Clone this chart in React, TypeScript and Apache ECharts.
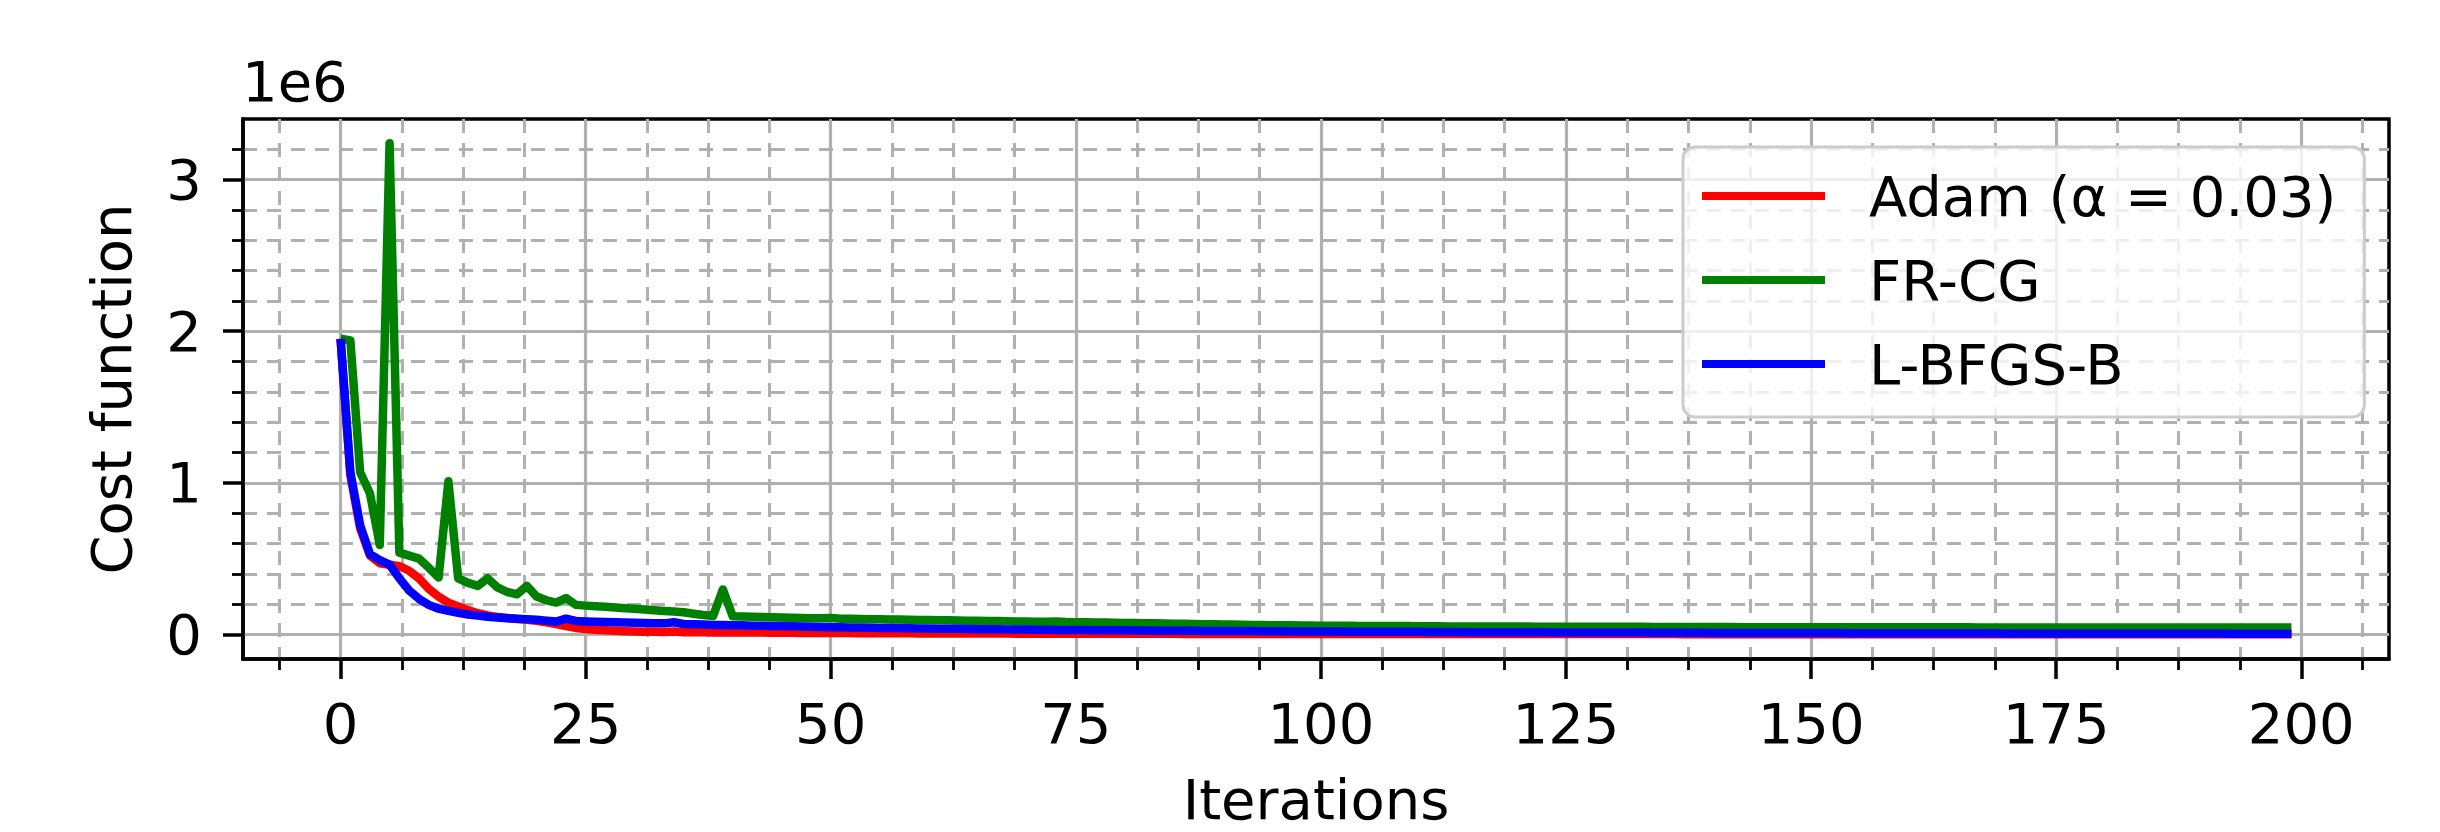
import React, { useEffect, useRef } from "react";
import * as echarts from "echarts";

// Cost function values, in units of 1e6, for iterations 0..199
const adamCost: number[] = [
  1.95, 1.05, 0.70, 0.52, 0.47, 0.46, 0.45, 0.42, 0.37, 0.30,
  0.25, 0.21, 0.185, 0.160, 0.140, 0.125, 0.115, 0.108, 0.102, 0.097,
  0.090, 0.080, 0.068, 0.055, 0.043, 0.036, 0.031, 0.027, 0.024, 0.021,
  0.019, 0.018, 0.017, 0.016, 0.019, 0.015, 0.014, 0.014, 0.013, 0.013,
  0.013, 0.012, 0.012, 0.012, 0.011, 0.011, 0.011, 0.010, 0.010, 0.010,
  0.0095, 0.009, 0.009, 0.0085, 0.0082, 0.008, 0.0078, 0.0075, 0.0073, 0.007,
  0.0068, 0.0066, 0.0064, 0.0062, 0.006, 0.0058, 0.0057, 0.0055, 0.0054, 0.0052,
  0.0051, 0.005, 0.0049, 0.0048, 0.0047, 0.0046, 0.0045, 0.0044, 0.0043, 0.0042,
  0.0041, 0.0040, 0.0040, 0.0039, 0.0038, 0.0038, 0.0037, 0.0036, 0.0036, 0.0035,
  0.0035, 0.0034, 0.0034, 0.0033, 0.0033, 0.0032, 0.0032, 0.0031, 0.0031, 0.0031,
  0.0030, 0.0030, 0.0029, 0.0029, 0.0029, 0.0028, 0.0028, 0.0028, 0.0027, 0.0027,
  0.0027, 0.0026, 0.0026, 0.0026, 0.0026, 0.0025, 0.0025, 0.0025, 0.0025, 0.0024,
  0.0024, 0.0024, 0.0024, 0.0023, 0.0023, 0.0023, 0.0023, 0.0022, 0.0022, 0.0022,
  0.0022, 0.0022, 0.0021, 0.0021, 0.0021, 0.0021, 0.0021, 0.0020, 0.0020, 0.0020,
  0.0020, 0.0020, 0.0020, 0.0019, 0.0019, 0.0019, 0.0019, 0.0019, 0.0019, 0.0018,
  0.0018, 0.0018, 0.0018, 0.0018, 0.0018, 0.0018, 0.0017, 0.0017, 0.0017, 0.0017,
  0.0017, 0.0017, 0.0017, 0.0017, 0.0016, 0.0016, 0.0016, 0.0016, 0.0016, 0.0016,
  0.0016, 0.0016, 0.0016, 0.0015, 0.0015, 0.0015, 0.0015, 0.0015, 0.0015, 0.0015,
  0.0015, 0.0015, 0.0015, 0.0015, 0.0014, 0.0014, 0.0014, 0.0014, 0.0014, 0.0014,
  0.0014, 0.0014, 0.0014, 0.0014, 0.0014, 0.0014, 0.0013, 0.0013, 0.0013, 0.0013,
];

const frcgCost: number[] = [
  1.95, 1.94, 1.07, 0.93, 0.59, 3.24, 0.54, 0.52, 0.50, 0.44,
  0.375, 1.01, 0.37, 0.34, 0.32, 0.37, 0.31, 0.28, 0.265, 0.32,
  0.25, 0.225, 0.21, 0.24, 0.195, 0.19, 0.186, 0.182, 0.178, 0.173,
  0.169, 0.165, 0.160, 0.155, 0.151, 0.146, 0.137, 0.128, 0.122, 0.297,
  0.120, 0.118, 0.116, 0.115, 0.113, 0.111, 0.110, 0.108, 0.107, 0.106,
  0.108, 0.104, 0.103, 0.102, 0.101, 0.100, 0.099, 0.098, 0.097, 0.096,
  0.095, 0.094, 0.093, 0.092, 0.091, 0.090, 0.089, 0.088, 0.087, 0.086,
  0.085, 0.084, 0.083, 0.086, 0.082, 0.081, 0.080, 0.079, 0.078, 0.077,
  0.076, 0.075, 0.074, 0.073, 0.072, 0.071, 0.070, 0.069, 0.068, 0.067,
  0.066, 0.065, 0.064, 0.063, 0.062, 0.061, 0.061, 0.060, 0.059, 0.059,
  0.058, 0.058, 0.057, 0.057, 0.056, 0.056, 0.056, 0.055, 0.055, 0.055,
  0.054, 0.054, 0.054, 0.053, 0.053, 0.053, 0.053, 0.052, 0.052, 0.052,
  0.052, 0.052, 0.051, 0.051, 0.051, 0.051, 0.051, 0.050, 0.050, 0.050,
  0.050, 0.050, 0.050, 0.050, 0.049, 0.049, 0.049, 0.049, 0.049, 0.049,
  0.049, 0.049, 0.049, 0.048, 0.048, 0.048, 0.048, 0.048, 0.048, 0.048,
  0.048, 0.048, 0.048, 0.048, 0.047, 0.047, 0.047, 0.047, 0.047, 0.047,
  0.047, 0.047, 0.047, 0.047, 0.047, 0.047, 0.047, 0.046, 0.046, 0.046,
  0.046, 0.046, 0.046, 0.046, 0.046, 0.046, 0.046, 0.046, 0.046, 0.046,
  0.046, 0.046, 0.045, 0.045, 0.045, 0.045, 0.045, 0.045, 0.045, 0.045,
  0.045, 0.045, 0.045, 0.045, 0.045, 0.045, 0.045, 0.045, 0.045, 0.045,
];

const lbfgsbCost: number[] = [
  1.95, 1.07, 0.72, 0.53, 0.49, 0.46, 0.37, 0.29, 0.235, 0.195,
  0.170, 0.155, 0.142, 0.132, 0.124, 0.117, 0.111, 0.107, 0.104, 0.101,
  0.097, 0.091, 0.085, 0.104, 0.089, 0.086, 0.084, 0.082, 0.080, 0.079,
  0.077, 0.075, 0.074, 0.073, 0.080, 0.069, 0.067, 0.065, 0.063, 0.062,
  0.061, 0.060, 0.058, 0.057, 0.056, 0.055, 0.054, 0.052, 0.051, 0.049,
  0.048, 0.047, 0.046, 0.045, 0.044, 0.043, 0.042, 0.042, 0.041, 0.040,
  0.039, 0.038, 0.038, 0.037, 0.036, 0.035, 0.035, 0.034, 0.033, 0.033,
  0.032, 0.031, 0.031, 0.030, 0.030, 0.029, 0.029, 0.028, 0.028, 0.027,
  0.027, 0.026, 0.026, 0.025, 0.025, 0.025, 0.024, 0.024, 0.023, 0.023,
  0.023, 0.022, 0.022, 0.022, 0.021, 0.021, 0.021, 0.020, 0.020, 0.020,
  0.019, 0.019, 0.019, 0.018, 0.018, 0.018, 0.018, 0.017, 0.017, 0.017,
  0.017, 0.016, 0.016, 0.016, 0.016, 0.015, 0.015, 0.015, 0.015, 0.014,
  0.014, 0.014, 0.014, 0.014, 0.013, 0.013, 0.013, 0.013, 0.013, 0.012,
  0.012, 0.012, 0.012, 0.012, 0.011, 0.011, 0.011, 0.011, 0.011, 0.011,
  0.010, 0.010, 0.010, 0.010, 0.010, 0.010, 0.0095, 0.0095, 0.0093, 0.0092,
  0.0090, 0.0090, 0.0088, 0.0087, 0.0086, 0.0085, 0.0084, 0.0083, 0.0082, 0.0081,
  0.0080, 0.0079, 0.0078, 0.0077, 0.0076, 0.0075, 0.0074, 0.0073, 0.0072, 0.0071,
  0.0070, 0.0069, 0.0068, 0.0067, 0.0066, 0.0066, 0.0065, 0.0064, 0.0063, 0.0063,
  0.0062, 0.0061, 0.0060, 0.0060, 0.0059, 0.0058, 0.0058, 0.0057, 0.0056, 0.0056,
  0.0055, 0.0055, 0.0054, 0.0053, 0.0053, 0.0052, 0.0052, 0.0051, 0.0051, 0.0050,
];

const seriesNames = ["Adam (α = 0.03)", "FR-CG", "L-BFGS-B"];
const seriesColors = ["#ff0000", "#008000", "#0000ff"];

const xMajorTicks = [0, 25, 50, 75, 100, 125, 150, 175, 200];
const xMinorTicks = [
  -6.25, 6.25, 12.5, 18.75, 31.25, 37.5, 43.75, 56.25, 62.5, 68.75,
  81.25, 87.5, 93.75, 106.25, 112.5, 118.75, 131.25, 137.5, 143.75,
  156.25, 162.5, 168.75, 181.25, 187.5, 193.75, 206.25,
];
const yMajorTicks = [0, 1, 2, 3];
const yMinorTicks = [0.2, 0.4, 0.6, 0.8, 1.2, 1.4, 1.6, 1.8, 2.2, 2.4, 2.6, 2.8, 3.2];

const X_MIN = -9.95;
const X_MAX = 208.95;
const Y_MIN = -0.162;
const Y_MAX = 3.4;

const FONT = "DejaVu Sans";
const GRID_COLOR = "#b0b0b0";

function toPairs(values: number[]): [number, number][] {
  return values.map((v, i) => [i, v]);
}

function buildOption() {
  const allSeries = [adamCost, frcgCost, lbfgsbCost];
  return {
    animation: false,
    backgroundColor: "#ffffff",
    textStyle: { fontFamily: FONT },
    grid: {
      left: 243,
      top: 119,
      right: 51,
      bottom: 170,
      show: true,
      borderColor: "#000000",
      borderWidth: 3.5,
      backgroundColor: "transparent",
    },
    legend: {
      orient: "vertical",
      left: 1683,
      top: 147,
      padding: [21, 28, 25, 19],
      itemWidth: 123,
      itemHeight: 8,
      itemGap: 28,
      icon: "rect",
      backgroundColor: "rgba(255,255,255,0.8)",
      borderColor: "#cccccc",
      borderWidth: 3,
      borderRadius: 12,
      textStyle: {
        fontSize: 56,
        fontFamily: FONT,
        color: "#000000",
        lineHeight: 56,
        padding: [0, 0, 0, 39],
      },
      data: seriesNames,
    },
    graphic: [
      {
        type: "text",
        x: 242,
        y: 81,
        style: {
          text: "1e6",
          fontSize: 56,
          fontFamily: FONT,
          fill: "#000000",
          align: "left",
          verticalAlign: "middle",
        },
      },
    ],
    xAxis: [
      {
        type: "value",
        position: "bottom",
        min: X_MIN,
        max: X_MAX,
        name: "Iterations",
        nameLocation: "middle",
        nameGap: 112,
        nameTextStyle: { fontSize: 56, fontFamily: FONT, color: "#000000", lineHeight: 56 },
        axisLine: { show: true, onZero: false, lineStyle: { color: "#000000", width: 3.5 } },
        axisTick: {
          show: true,
          customValues: xMajorTicks,
          length: 20,
          lineStyle: { color: "#000000", width: 3.5 },
        },
        axisLabel: {
          customValues: xMajorTicks,
          fontSize: 56,
          fontFamily: FONT,
          color: "#000000",
          margin: 36,
          lineHeight: 56,
          formatter: (v: number) => String(v),
        },
        splitLine: { show: true, lineStyle: { color: GRID_COLOR, width: 3.2 } },
      },
      {
        type: "value",
        position: "bottom",
        min: X_MIN,
        max: X_MAX,
        axisLine: { show: false, onZero: false },
        axisTick: {
          show: true,
          customValues: xMinorTicks,
          length: 11,
          lineStyle: { color: "#000000", width: 2.8 },
        },
        axisLabel: { show: false },
        splitLine: { show: true, lineStyle: { color: GRID_COLOR, width: 3, type: [14, 10] } },
      },
    ],
    yAxis: [
      {
        type: "value",
        position: "left",
        min: Y_MIN,
        max: Y_MAX,
        name: "Cost function",
        nameLocation: "middle",
        nameRotate: 90,
        nameGap: 104,
        nameTextStyle: { fontSize: 56, fontFamily: FONT, color: "#000000", lineHeight: 56 },
        axisLine: { show: true, onZero: false, lineStyle: { color: "#000000", width: 3.5 } },
        axisTick: {
          show: true,
          customValues: yMajorTicks,
          length: 20,
          lineStyle: { color: "#000000", width: 3.5 },
        },
        axisLabel: {
          customValues: yMajorTicks,
          fontSize: 56,
          fontFamily: FONT,
          color: "#000000",
          margin: 41,
          formatter: (v: number) => String(v),
        },
        splitLine: { show: true, lineStyle: { color: GRID_COLOR, width: 3.2 } },
      },
      {
        type: "value",
        position: "left",
        min: Y_MIN,
        max: Y_MAX,
        axisLine: { show: false, onZero: false },
        axisTick: {
          show: true,
          customValues: yMinorTicks,
          length: 11,
          lineStyle: { color: "#000000", width: 2.8 },
        },
        axisLabel: { show: false },
        splitLine: { show: true, lineStyle: { color: GRID_COLOR, width: 3, type: [14, 10] } },
      },
    ],
    series: allSeries.map((vals, k) => ({
      name: seriesNames[k],
      type: "line",
      xAxisIndex: 0,
      yAxisIndex: 0,
      data: toPairs(vals),
      showSymbol: false,
      symbol: "none",
      color: seriesColors[k],
      itemStyle: { color: seriesColors[k] },
      lineStyle: { color: seriesColors[k], width: 8.5, join: "round", cap: "butt" },
      emphasis: { disabled: true },
      z: 3 + k,
    })),
  };
}

export default function App() {
  const ref = useRef<HTMLDivElement>(null);
  useEffect(() => {
    if (!ref.current) return;
    const chart = echarts.init(ref.current, undefined, {
      renderer: "svg",
      width: 2440,
      height: 832,
    });
    chart.setOption(buildOption() as any);
    return () => {
      chart.dispose();
    };
  }, []);
  return (
    <div
      ref={ref}
      style={{
        position: "fixed",
        left: 0,
        top: 0,
        width: 2440,
        height: 832,
        background: "#ffffff",
      }}
    />
  );
}
